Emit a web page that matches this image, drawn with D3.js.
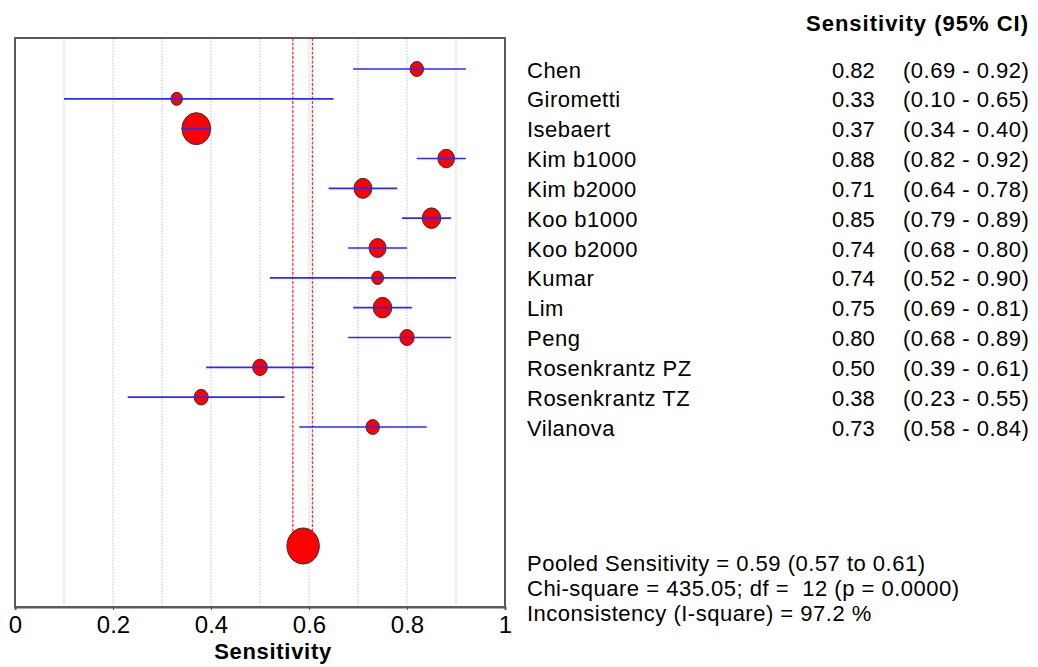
<!DOCTYPE html>
<html>
<head>
<meta charset="utf-8">
<script src="https://cdn.jsdelivr.net/npm/d3@7"></script>
<style>
    body { margin: 0; background: #fff; }
    svg { display: block; font-family: Arial, "Liberation Sans", sans-serif; }
</style>
</head>
<body>
<div id="chart"></div>
<script>
// Forest plot of sensitivity per study
const studies = ['Chen', 'Girometti', 'Isebaert', 'Kim b1000', 'Kim b2000', 'Koo b1000', 'Koo b2000',
    'Kumar', 'Lim', 'Peng', 'Rosenkrantz PZ', 'Rosenkrantz TZ', 'Vilanova'];
const sensitivity = [0.82, 0.33, 0.37, 0.88, 0.71, 0.85, 0.74, 0.74, 0.75, 0.80, 0.50, 0.38, 0.73];
const ciLow = [0.69, 0.10, 0.34, 0.82, 0.64, 0.79, 0.68, 0.52, 0.69, 0.68, 0.39, 0.23, 0.58];
const ciHigh = [0.92, 0.65, 0.40, 0.92, 0.78, 0.89, 0.80, 0.90, 0.81, 0.89, 0.61, 0.55, 0.84];
// relative study weights (marker area)
const studyWeight = [56, 42, 256, 86, 100, 106, 90, 45, 106, 64, 67, 61, 56];

const pooledEstimate = 0.588;
const pooledLow = 0.567;
const pooledHigh = 0.607;
const pooledWeight = 324;

const xTicks = [0, 0.2, 0.4, 0.6, 0.8, 1];
const gridValues = [0.1, 0.2, 0.3, 0.4, 0.5, 0.6, 0.7, 0.8, 0.9];

const summaryLines = [
    'Pooled Sensitivity = 0.59 (0.57 to 0.61)',
    'Chi-square = 435.05; df =  12 (p = 0.0000)',
    'Inconsistency (I-square) = 97.2 %'
];

const width = 1038;
const height = 667;
const plot = { left: 15, right: 505, top: 38, bottom: 607 };

const svg = d3.select('#chart')
    .append('svg')
    .attr('width', width)
    .attr('height', height);

const x = d3.scaleLinear().domain([0, 1]).range([plot.left, plot.right]);
const y = d3.scalePoint().domain(studies).range([69, 427]);
const pooledY = 546;
const r = d3.scaleSqrt().domain([0, d3.max(studyWeight)]).range([0, 16]);
const aspect = 0.9;

// gridlines
svg.append('g')
    .selectAll('line')
    .data(gridValues)
    .join('line')
    .attr('x1', d => x(d))
    .attr('x2', d => x(d))
    .attr('y1', plot.top)
    .attr('y2', plot.bottom)
    .attr('stroke', '#cfcfcf')
    .attr('stroke-width', 1)
    .attr('stroke-dasharray', '2,1');

// pooled CI lines
svg.append('g')
    .selectAll('line')
    .data([pooledLow, pooledHigh])
    .join('line')
    .attr('x1', d => x(d))
    .attr('x2', d => x(d))
    .attr('y1', plot.top)
    .attr('y2', pooledY)
    .attr('stroke', '#ff3030')
    .attr('stroke-width', 1.3)
    .attr('stroke-dasharray', '3,1.5');

// frame
svg.append('rect')
    .attr('x', plot.left)
    .attr('y', plot.top)
    .attr('width', plot.right - plot.left)
    .attr('height', plot.bottom - plot.top)
    .attr('fill', 'none')
    .attr('stroke', '#5a5a5a')
    .attr('stroke-width', 2);

const rows = studies.map((name, i) => ({
    name: name,
    est: sensitivity[i],
    lo: ciLow[i],
    hi: ciHigh[i],
    w: studyWeight[i]
}));

// study markers
const marks = svg.append('g');
marks.selectAll('ellipse')
    .data(rows)
    .join('ellipse')
    .attr('cx', d => x(d.est))
    .attr('cy', d => y(d.name))
    .attr('rx', d => r(d.w) * aspect)
    .attr('ry', d => r(d.w))
    .attr('fill', '#ff0000')
    .attr('stroke', '#333')
    .attr('stroke-width', 1);

marks.selectAll('line')
    .data(rows)
    .join('line')
    .attr('x1', d => x(d.lo))
    .attr('x2', d => x(d.hi))
    .attr('y1', d => y(d.name))
    .attr('y2', d => y(d.name))
    .attr('stroke', '#2a2aff')
    .attr('stroke-width', 1.6);

// pooled marker
svg.append('ellipse')
    .attr('cx', x(pooledEstimate))
    .attr('cy', pooledY)
    .attr('rx', r(pooledWeight) * aspect)
    .attr('ry', r(pooledWeight))
    .attr('fill', '#ff0000')
    .attr('stroke', '#333')
    .attr('stroke-width', 1);

// x axis
const xAxis = svg.append('g')
    .attr('transform', `translate(0,${plot.bottom})`)
    .call(d3.axisBottom(x).tickValues(xTicks).tickSize(3).tickFormat(d3.format('~g')));
xAxis.select('.domain').attr('stroke', '#5a5a5a').attr('stroke-width', 2);
xAxis.selectAll('.tick line').attr('stroke', '#5a5a5a');
xAxis.selectAll('.tick text')
    .attr('y', 26)
    .attr('dy', 0)
    .attr('fill', '#000')
    .style('font-size', '24px');

svg.append('text')
    .attr('x', 273)
    .attr('y', 659)
    .attr('text-anchor', 'middle')
    .style('font-size', '22px')
    .style('font-weight', 'bold')
    .style('letter-spacing', '0.7px')
    .text('Sensitivity');

// right-hand table
svg.append('text')
    .attr('x', 806)
    .attr('y', 31)
    .style('font-size', '22px')
    .style('font-weight', 'bold')
    .style('letter-spacing', '1px')
    .text('Sensitivity (95% CI)');

const table = svg.append('g').style('font-size', '22px');
const fmt = d3.format('.2f');

table.selectAll('text.name')
    .data(rows)
    .join('text')
    .attr('class', 'name')
    .attr('x', 527)
    .attr('y', d => y(d.name) + 8.5)
    .style('letter-spacing', '0.5px')
    .text(d => d.name);

table.selectAll('text.val')
    .data(rows)
    .join('text')
    .attr('class', 'val')
    .attr('x', 832)
    .attr('y', d => y(d.name) + 8.5)
    .text(d => fmt(d.est));

table.selectAll('text.ci')
    .data(rows)
    .join('text')
    .attr('class', 'ci')
    .attr('x', 903)
    .attr('y', d => y(d.name) + 8.5)
    .style('letter-spacing', '0.5px')
    .text(d => `(${fmt(d.lo)} - ${fmt(d.hi)})`);

table.selectAll('text.summary')
    .data(summaryLines)
    .join('text')
    .attr('class', 'summary')
    .attr('x', 527)
    .attr('y', (d, i) => 571 + i * 25)
    .style('letter-spacing', '0.5px')
    .style('white-space', 'pre')
    .text(d => d);
</script>
</body>
</html>
